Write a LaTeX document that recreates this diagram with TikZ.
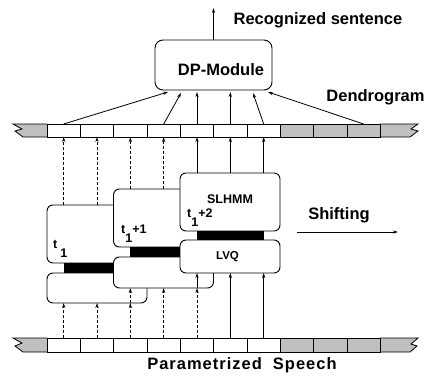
\documentclass[tikz,border=0pt]{standalone}
\usepackage{fontspec}
\setmainfont{Liberation Sans}
\newfontfamily\spacedfont[LetterSpace=6]{Liberation Sans}
\usetikzlibrary{arrows.meta}
\begin{document}
\begin{tikzpicture}[x=1pt,y=-1pt,
  lw/.style={line width=0.8pt},
  big/.style={font=\fontsize{16.5}{18}\selectfont\bfseries, inner sep=0pt},
  small/.style={font=\fontsize{12.5}{14}\selectfont\bfseries, inner sep=0pt},
  cell/.style={draw, line width=0.8pt, minimum width=33.33pt, minimum height=13pt, inner sep=0pt, outer sep=0pt},
  shcell/.style={cell, fill=black!25},
  modbox/.style={draw, fill=white, line width=0.9pt, rounded corners=6pt, inner sep=0pt, outer sep=0pt, minimum width=100pt, anchor=north west},
  joint/.style={fill=black, inner sep=0pt, outer sep=0pt, anchor=north west},
  arr/.style={line width=0.8pt, -{Stealth[length=5pt,width=3.2pt]}},
  darr/.style={arr, dash pattern=on 3pt off 2pt},
]
\useasboundingbox (0,0) rectangle (425,377);

% ---------- top bar (dendrogram) ----------
\draw[lw, fill=black!25] (47,124) -- (13,124) -- (22,129) -- (15,131) -- (23,137) -- (47,137);
\draw[lw, fill=black!25] (380,124) -- (418,124) -- (411,129) -- (418,131) -- (410,137) -- (380,137);
\foreach \i in {1,...,7} \node[cell] (T\i) at ({47+33.33*(\i-0.5)},130.5) {};
\foreach \i in {8,...,10} \node[shcell] (T\i) at ({47+33.33*(\i-0.5)},130.5) {};

% ---------- bottom bar (parametrized speech) ----------
\draw[lw, fill=black!25] (47,338) -- (13,338) -- (22,343) -- (15,346) -- (23,352) -- (47,352);
\draw[lw, fill=black!25] (380,338) -- (418,338) -- (411,344) -- (417,346) -- (410,352) -- (380,352);
\foreach \i in {1,...,7} \node[cell, minimum height=14pt] (B\i) at ({47+33.33*(\i-0.5)},345) {};
\foreach \i in {8,...,10} \node[shcell, minimum height=14pt] (B\i) at ({47+33.33*(\i-0.5)},345) {};

% ---------- DP module ----------
\node[draw, line width=0.9pt, rounded corners=8pt, minimum width=117pt, minimum height=50pt, inner sep=0pt] (dp) at (213.5,65) {};
\node[big] (dpl) at (221,70) {DP-Module};
\coordinate (out) at (213.5,8);
\draw[arr] (dp.north) -- (out);
\node[big] (rs) at (318,20) {Recognized sentence};
\node[big] (dg) at (375.5,97) {Dendrogram};

\coordinate (d1) at (168,92);
\coordinate (d4) at (181,93);
\coordinate (d10) at (268,92);
\coordinate (d7) at (253,93);
\draw[arr] (T1.north) -- (d1);
\draw[arr] (T4.north) -- (d4);
\draw[arr] (T5.north) -- (T5.north |- 0,92);
\draw[arr] (T6.north) -- (T6.north |- 0,92);
\draw[arr] (T7.north) -- (d7);
\draw[arr] (T10.north) -- (d10);

% ---------- module t1 ----------
\node[modbox, minimum height=58pt] (u1) at (47,205) {};
\node[joint, minimum width=68pt, minimum height=10pt] (j1) at (63.5,263) {};
\node[modbox, minimum height=30pt] (l1) at (47,273) {};
% ---------- module t1+1 ----------
\node[modbox, minimum height=58pt] (u2) at (113.5,189) {};
\node[joint, minimum width=67pt, minimum height=10pt] (j2) at (130,247) {};
\node[modbox, minimum height=31pt] (l2) at (113.5,257) {};
% ---------- module t1+2 ----------
\node[modbox, minimum height=58pt] (u3) at (180,173) {};
\node[joint, minimum width=67pt, minimum height=9pt] (j3) at (196.5,231) {};
\node[modbox, minimum height=33pt] (l3) at (180,240) {};

\node[small, anchor=base west] (lab1) at (53,248) {t\hspace{3pt}\raisebox{-9pt}{1}};
\node[small, anchor=base west] (lab2) at (121,233) {t\raisebox{-9pt}{1}+1};
\node[small, anchor=base west] (lab3) at (187,217) {t\raisebox{-9pt}{1}+2};
\node[small] (slhmm) at (230,199) {SLHMM};
\node[small, font=\fontsize{11.5}{13}\selectfont\bfseries] (lvq) at (227.5,257) {LVQ};

% ---------- arrows up to the dendrogram ----------
\draw[darr] (T1.south |- u1.north) -- (T1.south);
\draw[darr] (T2.south |- u1.north) -- (T2.south);
\draw[darr] (T3.south |- u2.north) -- (T3.south);
\draw[darr] (T4.south |- u2.north) -- (T4.south);
\draw[arr] (T5.south |- u3.north) -- (T5.south);
\draw[arr] (T6.south |- u3.north) -- (T6.south);
\draw[arr] (T7.south |- u3.north) -- (T7.south);

% ---------- arrows up from the speech ----------
\draw[darr] (B1.north) -- (B1.north |- l1.south);
\draw[darr] (B2.north) -- (B2.north |- l1.south);
\draw[darr] (B3.north) -- (B3.north |- l1.south);
\draw[darr] (B3.north |- l1.south) -- (B3.north |- l2.south);
\draw[darr] (B4.north) -- (B4.north |- l2.south);
\draw[darr] (B5.north) -- (B5.north |- l2.south);
\draw[arr] (B5.north |- l2.south) -- (B5.north |- l3.south);
\draw[arr] (B6.north) -- (B6.north |- l3.south);
\draw[arr] (B7.north) -- (B7.north |- l3.south);

% ---------- shifting ----------
\node[big] (sh) at (339,215) {Shifting};
\coordinate (s1) at (297,232);
\coordinate (s2) at (398,232);
\draw[arr] (s1) -- (s2);

\node[big, font=\fontsize{16.5}{18}\spacedfont\bfseries] (ps) at (242,365) {Parametrized\ \ Speech};
\end{tikzpicture}
\end{document}
